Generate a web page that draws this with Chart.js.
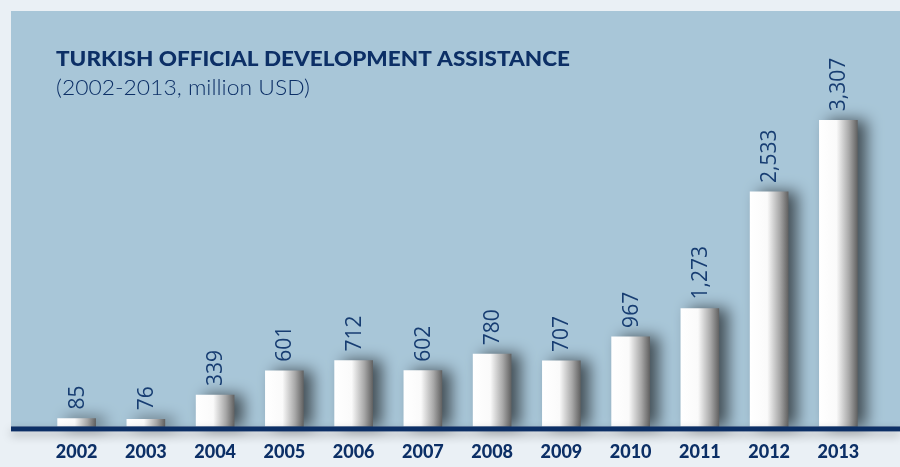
<!DOCTYPE html>
<html>
<head>
<meta charset="utf-8">
<script src="https://cdn.jsdelivr.net/npm/chart.js@4.4.1/dist/chart.umd.min.js"></script>
<style>
  html, body { margin: 0; padding: 0; background: #eaf0f5; }
  #wrap { width: 900px; height: 467px; position: relative; }
</style>
</head>
<body>
<div id="wrap"><canvas id="c" width="900" height="467"></canvas></div>
<script>
// ---- data ----
const years = ['2002','2003','2004','2005','2006','2007','2008','2009','2010','2011','2012','2013'];
const odaValues = [85, 76, 339, 601, 712, 602, 780, 707, 967, 1273, 2533, 3307];
const titleText = 'TURKISH OFFICIAL DEVELOPMENT ASSISTANCE';
const subtitleText = '(2002-2013, million USD)';

const NAVY = '#0c2f66';
const PANEL = '#a8c6d8';
const BG = '#eaf0f5';
const BAR_W = 38;

function fitText(ctx, text, x, y, width) {
  const w = ctx.measureText(text).width;
  ctx.save();
  ctx.translate(x, y);
  ctx.scale(width / w, 1);
  ctx.fillText(text, 0, 0);
  ctx.restore();
}

const backdrop = {
  id: 'backdrop',
  beforeDraw(chart) {
    const ctx = chart.ctx;
    ctx.save();
    ctx.fillStyle = BG;
    ctx.fillRect(0, 0, chart.width, chart.height);
    ctx.fillStyle = PANEL;
    const base = chart.scales.y.getPixelForValue(0);
    ctx.fillRect(11, 11, chart.width - 11, base - 11);
    // title
    ctx.fillStyle = NAVY;
    ctx.textBaseline = 'alphabetic';
    ctx.textAlign = 'left';
    ctx.font = '900 21px Lato';
    fitText(ctx, titleText, 56, 66, 514);
    ctx.font = '300 21px Lato';
    fitText(ctx, subtitleText, 56, 95, 254);
    ctx.restore();
  },
  beforeDatasetDraw(chart) {
    const ctx = chart.ctx;
    ctx.save();
    ctx.shadowColor = 'rgba(0,0,0,0.6)';
    ctx.shadowBlur = 15;
    ctx.shadowOffsetX = 9;
    ctx.shadowOffsetY = 0;
  },
  afterDatasetDraw(chart) {
    chart.ctx.restore();
  },
  afterDatasetsDraw(chart) {
    const ctx = chart.ctx;
    const base = chart.scales.y.getPixelForValue(0);
    // axis line
    ctx.save();
    ctx.shadowColor = 'rgba(0,0,0,0.25)';
    ctx.shadowBlur = 10;
    ctx.shadowOffsetY = 4;
    ctx.fillStyle = NAVY;
    ctx.fillRect(11, base, chart.width - 11, 5);
    ctx.restore();
    // value labels
    const meta = chart.getDatasetMeta(0);
    ctx.save();
    ctx.fillStyle = '#173d72';
    ctx.font = '21px "Open Sans"';
    ctx.textAlign = 'left';
    ctx.textBaseline = 'middle';
    meta.data.forEach((el, i) => {
      ctx.save();
      ctx.translate(el.x + 1, el.y - 9);
      ctx.rotate(-Math.PI / 2);
      ctx.fillText(odaValues[i].toLocaleString('en-US'), 0, 0);
      ctx.restore();
    });
    ctx.restore();
  }
};

function barGradient(context) {
  const chart = context.chart;
  const xs = chart.scales && chart.scales.x;
  if (!xs || !chart.chartArea) return '#ffffff';
  const cx = xs.getPixelForValue(context.dataIndex);
  const g = chart.ctx.createLinearGradient(cx - BAR_W / 2, 0, cx + BAR_W / 2, 0);
  g.addColorStop(0, '#ffffff');
  g.addColorStop(0.45, '#fafafa');
  g.addColorStop(0.78, '#a8a8a8');
  g.addColorStop(1, '#636363');
  return g;
}

new Chart(document.getElementById('c'), {
  type: 'bar',
  data: {
    labels: years,
    datasets: [{
      data: odaValues,
      backgroundColor: barGradient,
      borderWidth: 0,
      barThickness: BAR_W,
      clip: false
    }]
  },
  options: {
    responsive: false,
    animation: false,
    devicePixelRatio: 1,
    layout: { padding: { left: 42, right: 27, top: 107, bottom: -11 } },
    plugins: { legend: { display: false }, tooltip: { enabled: false }, title: { display: false } },
    scales: {
      x: {
        grid: { display: false, drawTicks: false },
        border: { display: false },
        ticks: { color: NAVY, font: { family: 'Lato', weight: '900', size: 18 }, padding: 15, maxRotation: 0 }
      },
      y: {
        display: false,
        min: 0,
        max: 3450,
        grid: { display: false }
      }
    }
  },
  plugins: [backdrop]
});
</script>
</body>
</html>
